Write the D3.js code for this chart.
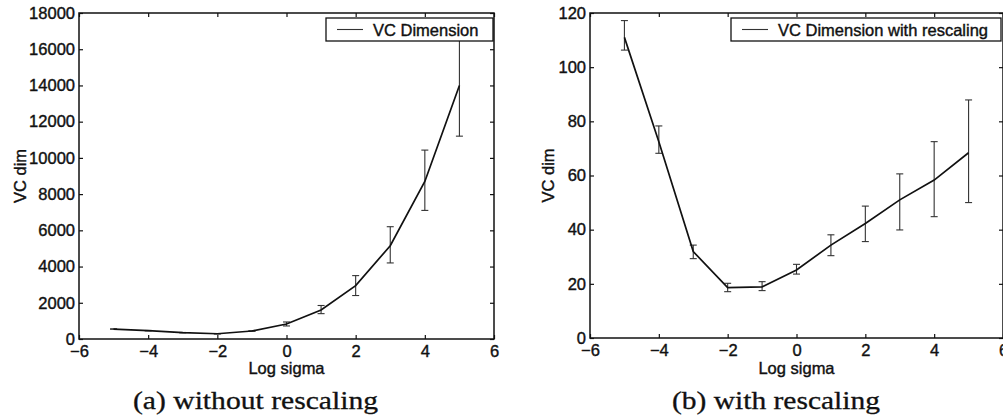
<!DOCTYPE html>
<html>
<head>
<meta charset="utf-8">
<script src="https://cdn.jsdelivr.net/npm/d3@7"></script>
<style>
  body { margin: 0; background: #fff; }
  svg { display: block; }
  .tick text { font-family: "Liberation Sans", Arial, sans-serif; font-size: 16.5px; fill: #111; stroke: #111; stroke-width: 0.4px; }
  .tick line { stroke: #111; stroke-width: 1.2; }
  .lbl { font-family: "Liberation Sans", Arial, sans-serif; font-size: 16.5px; fill: #111; stroke: #111; stroke-width: 0.4px; }
  .cap { font-family: "Liberation Serif", "Times New Roman", serif; font-size: 25px; fill: #111; stroke: #111; stroke-width: 0.3px; }
</style>
</head>
<body>
<div id="chart"></div>
<script>
// log sigma values (shared by both panels)
var logSigma = [-5, -4, -3, -2, -1, 0, 1, 2, 3, 4, 5];

// (a) without rescaling
var vcDim = [550, 460, 350, 290, 440, 830, 1600, 2950, 5150, 8700, 14000];
var vcLow = [540, 450, 340, 280, 430, 720, 1400, 2400, 4200, 7100, 11200];
var vcHigh = [560, 470, 360, 300, 450, 940, 1850, 3500, 6200, 10430, 16700];

// (b) with rescaling
var vcDimR = [111, 72.5, 31.9, 18.6, 18.9, 25.1, 34.3, 42.3, 51, 58.3, 68.4];
var vcLowR = [106.3, 68.2, 29.3, 17.1, 17.5, 23.6, 30.4, 35.6, 39.9, 44.8, 50];
var vcHighR = [117.2, 78.3, 34.3, 20.2, 20.8, 27.2, 38.1, 48.7, 60.6, 72.5, 87.9];

var xTicks = [-6, -4, -2, 0, 2, 4, 6];
var yTicksA = [0, 2000, 4000, 6000, 8000, 10000, 12000, 14000, 16000, 18000];
var yTicksB = [0, 20, 40, 60, 80, 100, 120];

var svg = d3.select("#chart").append("svg")
    .attr("width", 1003)
    .attr("height", 418);

function drawPanel(p) {
  var x = d3.scaleLinear().domain([-6, 6]).range([p.left, p.right]);
  var y = d3.scaleLinear().domain([0, p.ymax]).range([p.bottom, p.top]);

  var g = svg.append("g");

  // axes, matlab style: ticks pointing inward
  g.append("g")
    .attr("transform", "translate(0," + p.bottom + ")")
    .call(d3.axisBottom(x).tickValues(xTicks).tickSizeInner(-4).tickSizeOuter(0).tickPadding(6))
    .call(function(a) { a.select(".domain").remove(); });
  g.append("g")
    .attr("transform", "translate(0," + p.top + ")")
    .call(d3.axisTop(x).tickValues(xTicks).tickSizeInner(-4).tickSizeOuter(0).tickFormat(""))
    .call(function(a) { a.select(".domain").remove(); });
  g.append("g")
    .attr("transform", "translate(" + p.left + ",0)")
    .call(d3.axisLeft(y).tickValues(p.yTicks).tickSizeInner(-4).tickSizeOuter(0).tickPadding(4).tickFormat(d3.format("d")))
    .call(function(a) { a.select(".domain").remove(); });
  g.append("g")
    .attr("transform", "translate(" + p.right + ",0)")
    .call(d3.axisRight(y).tickValues(p.yTicks).tickSizeInner(-4).tickSizeOuter(0).tickFormat(""))
    .call(function(a) { a.select(".domain").remove(); });

  // frame
  g.append("rect")
    .attr("x", p.left).attr("y", p.top)
    .attr("width", p.right - p.left).attr("height", p.bottom - p.top)
    .attr("fill", "none").attr("stroke", "#111").attr("stroke-width", 1.5);

  // error bars
  var eb = g.selectAll("g.err").data(logSigma).enter().append("g").attr("class", "err")
    .attr("stroke", "#333").attr("stroke-width", 1.1);
  eb.append("line")
    .attr("x1", function(d) { return x(d); }).attr("x2", function(d) { return x(d); })
    .attr("y1", function(d, i) { return y(p.lo[i]); })
    .attr("y2", function(d, i) { return y(p.hi[i]); });
  eb.append("line")
    .attr("x1", function(d) { return x(d) - 3.5; }).attr("x2", function(d) { return x(d) + 3.5; })
    .attr("y1", function(d, i) { return y(p.lo[i]); }).attr("y2", function(d, i) { return y(p.lo[i]); });
  eb.append("line")
    .attr("x1", function(d) { return x(d) - 3.5; }).attr("x2", function(d) { return x(d) + 3.5; })
    .attr("y1", function(d, i) { return y(p.hi[i]); }).attr("y2", function(d, i) { return y(p.hi[i]); });

  // main line
  var line = d3.line()
    .x(function(d) { return x(d); })
    .y(function(d, i) { return y(p.vals[i]); });
  g.append("path")
    .datum(logSigma)
    .attr("d", line)
    .attr("fill", "none")
    .attr("stroke", "#111")
    .attr("stroke-width", 1.7);

  // legend
  var lg = g.append("g");
  lg.append("rect")
    .attr("x", p.legX).attr("y", 18)
    .attr("width", p.legW).attr("height", 23)
    .attr("fill", "#fff").attr("stroke", "#111").attr("stroke-width", 1.3);
  lg.append("line")
    .attr("x1", p.legX + 11).attr("x2", p.legX + 37)
    .attr("y1", 29.5).attr("y2", 29.5)
    .attr("stroke", "#333").attr("stroke-width", 1.1);
  lg.append("text")
    .attr("class", "lbl")
    .attr("x", p.legX + 47).attr("y", 35.5)
    .text(p.legend);

  // axis titles
  g.append("text")
    .attr("class", "lbl")
    .attr("x", (p.left + p.right) / 2).attr("y", 374)
    .attr("text-anchor", "middle")
    .text("Log sigma");
  g.append("text")
    .attr("class", "lbl")
    .attr("transform", "translate(" + p.ylabX + "," + ((p.top + p.bottom) / 2) + ") rotate(-90)")
    .attr("text-anchor", "middle")
    .attr("dy", "0.35em")
    .text("VC dim");

  // caption
  g.append("text")
    .attr("class", "cap")
    .attr("x", p.capX).attr("y", 409)
    .attr("textLength", p.capW).attr("lengthAdjust", "spacingAndGlyphs")
    .text(p.caption);
}

drawPanel({
  left: 79, right: 494, top: 13, bottom: 339, ymax: 18000, yTicks: yTicksA,
  vals: vcDim, lo: vcLow, hi: vcHigh,
  legX: 326, legW: 167, legend: "VC Dimension",
  ylabX: 20, capX: 133, capW: 245, caption: "(a) without rescaling"
});

drawPanel({
  left: 590, right: 1003, top: 13, bottom: 338, ymax: 120, yTicks: yTicksB,
  vals: vcDimR, lo: vcLowR, hi: vcHighR,
  legX: 731, legW: 270, legend: "VC Dimension with rescaling",
  ylabX: 548, capX: 672, capW: 208, caption: "(b) with rescaling"
});
</script>
</body>
</html>
